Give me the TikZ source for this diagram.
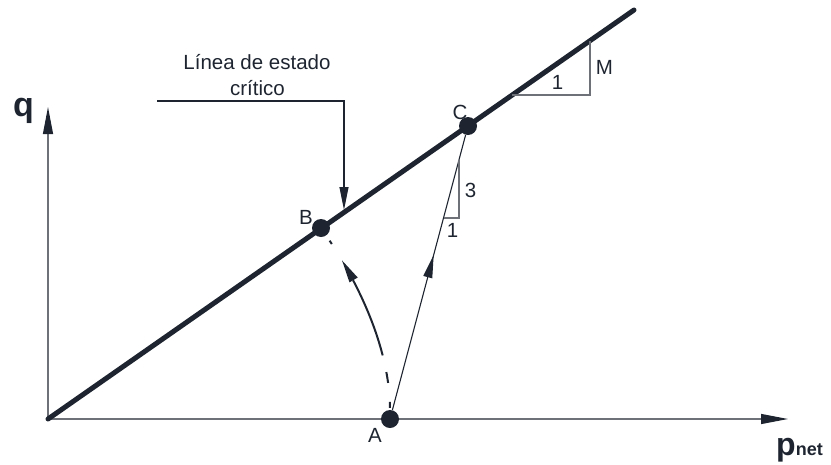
\documentclass[tikz,border=0pt]{standalone}
\usepackage{fontspec}
\setmainfont{Liberation Sans}
\usetikzlibrary{arrows.meta,decorations.markings}
\definecolor{ink}{HTML}{1E2530}
\definecolor{axisgray}{HTML}{6E7278}
\begin{document}
\begin{tikzpicture}[x=1pt,y=-1pt,
  lbl/.style={font=\fontsize{20.5}{26}\selectfont, text=ink, inner sep=0pt},
  dot/.style={circle, fill=ink, minimum size=18pt, inner sep=0pt},
  axisline/.style={draw=axisgray, line width=1.2pt},
  thinink/.style={draw=ink, line width=1.1pt},
  slope/.style={draw=axisgray, line width=1.1pt},
  bigtip/.style={-{Triangle[length=27pt,width=10pt,color=ink]}},
  midtip/.style={-{Triangle[length=23pt,width=9pt,color=ink]}}
]
\useasboundingbox (0,0) rectangle (831,464);

% axes
\coordinate (O) at (48,419);
\coordinate (qend) at (48,107);
\coordinate (pend) at (788,419);
\draw[axisline, bigtip] (O) -- (qend);
\draw[axisline, bigtip] (O) -- (pend);
\node[font=\fontsize{34}{34}\selectfont\bfseries, text=ink, inner sep=0pt, anchor=base] (qlbl) at (23.5,116) {q};
\node[font=\fontsize{32}{32}\selectfont\bfseries, text=ink, inner sep=0pt, anchor=base west] (plbl) at (776,455) {p\fontsize{18}{18}\selectfont net};

% critical state line
\coordinate (Lend) at (634,10);
\draw[ink, line width=5pt, line cap=round] (O) -- (Lend);

% slope triangle M
\coordinate (m1) at (512,95);
\coordinate (m2) at (590,95);
\coordinate (m3) at (590,41);
\draw[slope] (m1) -- (m2) -- (m3);
\node[lbl] (m1lbl) at (557.5,82.5) {1};
\node[lbl] (mlbl) at (604.5,67.5) {M};

% annotation
\node[lbl, anchor=base] (ann1) at (257,69) {Línea de estado};
\node[lbl, anchor=base] (ann2) at (257.5,95) {crítico};
\coordinate (ld1) at (157,101);
\coordinate (ld2) at (344,101);
\coordinate (ld3) at (344,210);
\draw[thinink, midtip] (ld1) -- (ld2) -- (ld3);

% points
\node[dot] (A) at (390,419) {};
\node[dot] (B) at (321,228) {};
\node[dot] (C) at (468,126) {};
\node[lbl] (Albl) at (375,435) {A};
\node[lbl] (Blbl) at (306,217.5) {B};
\node[lbl] (Clbl) at (460,112.5) {C};

% path A -> C
\draw[thinink, postaction={decorate}, decoration={markings,
  mark=at position 0.564 with {\arrow{Triangle[length=23pt,width=9pt,color=ink]}}}] (A) -- (C);
% slope triangle 3:1
\coordinate (s1) at (443.5,218);
\coordinate (s2) at (459,218);
\coordinate (s3) at (459,160);
\draw[slope] (s1) -- (s2) -- (s3);
\node[lbl] (s3lbl) at (470.5,190.5) {3};
\node[lbl] (s1lbl) at (452.5,230.5) {1};

% path A -> B (curved, partly dashed)
\draw[ink, line width=2pt,
  dash pattern=on 0pt off 2pt on 6pt off 19pt on 11pt off 17pt on 81pt off 42pt on 4pt off 100pt,
  postaction={decorate}, decoration={markings,
  mark=at position 159pt with {\arrow[solid]{Triangle[length=23pt,width=9pt,color=ink]}}}]
  (A) .. controls (390,350) and (360,285) .. (B);
\end{tikzpicture}
\end{document}
